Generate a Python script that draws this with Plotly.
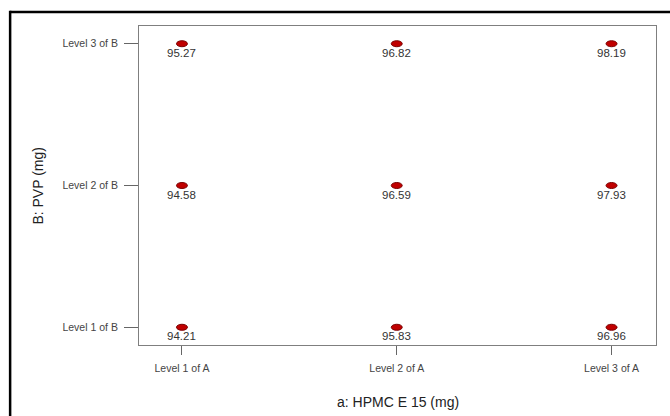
import plotly.graph_objects as go

a_levels = ["Level 1 of A", "Level 2 of A", "Level 3 of A"]
b_levels = ["Level 1 of B", "Level 2 of B", "Level 3 of B"]
# values[b][a]
values = [
    [94.21, 95.83, 96.96],
    [94.58, 96.59, 97.93],
    [95.27, 96.82, 98.19],
]
x_title = "a: HPMC E 15 (mg)"
y_title = "B: PVP (mg)"

FONT = "Arial, Liberation Sans, sans-serif"
PW, PH = 517.5, 319.5  # plot area size in px
L, T = 139, 26

fig = go.Figure()

xs, ys, txt = [], [], []
for bi, row in enumerate(values):
    for ai, v in enumerate(row):
        xs.append(ai + 1)
        ys.append(bi + 1)
        txt.append(f"{v:.2f}")

# invisible trace to set the axes
fig.add_trace(go.Scatter(x=xs, y=ys, mode="markers",
                         marker=dict(size=1, opacity=0), hoverinfo="skip",
                         showlegend=False))

for x, y, t in zip(xs, ys, txt):
    fig.add_shape(type="circle", xref="x", yref="y",
                  xsizemode="pixel", ysizemode="pixel",
                  xanchor=x, yanchor=y,
                  x0=-5.5, x1=5.5, y0=-3, y1=3,
                  fillcolor="#c00000", line=dict(color="#7a0000", width=1))
    fig.add_annotation(x=x, y=y, text=t, showarrow=False,
                       yanchor="middle", xanchor="center", yshift=-9,
                       font=dict(family=FONT, size=11.5, color="#333333"))

# outer frame (top and left edges visible)
fx = (10 - L) / PW
fy = 1 + (T - 12) / PH
fig.add_shape(type="line", xref="paper", yref="paper",
              x0=fx, x1=1.1, y0=fy, y1=fy,
              line=dict(color="black", width=2.5))
fig.add_shape(type="line", xref="paper", yref="paper",
              x0=fx, x1=fx, y0=-0.3, y1=fy + 0.004,
              line=dict(color="black", width=2.5))

# axis titles
fig.add_annotation(xref="paper", yref="paper", x=0.5, y=(T + PH - 403) / PH,
                   text=x_title, showarrow=False, xanchor="center", yanchor="middle",
                   font=dict(family=FONT, size=14, color="#222222"))
fig.add_annotation(xref="paper", yref="paper", x=(37 - L) / PW, y=0.5,
                   text=y_title, showarrow=False, xanchor="center", yanchor="middle",
                   textangle=-90,
                   font=dict(family=FONT, size=14, color="#222222"))

fig.update_xaxes(range=[0.8, 3.207], tickvals=[1, 2, 3], ticktext=a_levels,
                 showgrid=False, zeroline=False, showline=True, mirror=True,
                 linecolor="#7f7f7f", linewidth=1, automargin=False,
                 ticks="outside", ticklen=9, tickcolor="#666666", tickwidth=1,
                 ticklabelstandoff=4,
                 tickfont=dict(family=FONT, size=10.5, color="#444444"))
fig.update_yaxes(range=[0.875, 3.125], tickvals=[1, 2, 3], ticktext=b_levels,
                 showgrid=False, zeroline=False, showline=True, mirror=True,
                 linecolor="#7f7f7f", linewidth=1, automargin=False,
                 ticks="outside", ticklen=14, tickcolor="#666666", tickwidth=1,
                 ticklabelstandoff=4,
                 tickfont=dict(family=FONT, size=10.5, color="#444444"))

fig.update_layout(width=670, height=416,
                  margin=dict(l=L, r=670 - L - PW, t=T, b=416 - T - PH),
                  paper_bgcolor="white", plot_bgcolor="white",
                  showlegend=False)

fig.write_html("out.html", config={"displayModeBar": False},
               post_script="document.body.style.margin='0';document.body.style.overflow='hidden';")
